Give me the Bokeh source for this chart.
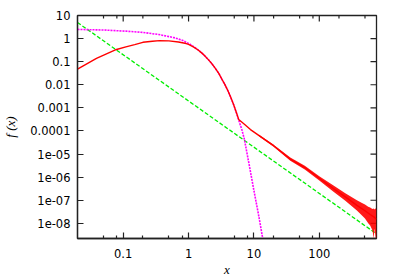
import math
from bokeh.plotting import figure
from bokeh.models import FixedTicker, CustomJSTickFormatter, ColumnDataSource
from bokeh.embed import file_html
from bokeh.resources import INLINE

# ---------------- data ----------------
red_x = [0.02, 0.039, 0.079, 0.11, 0.15, 0.2, 0.28, 0.36, 0.5, 0.7, 0.92, 1.0, 1.2, 1.4, 1.6, 1.8,
         2.04, 2.3, 2.6, 2.9, 3.27, 3.6, 4.0, 4.4, 4.9, 5.5, 5.86, 6.5, 7.3, 8.85, 12, 20, 36, 60,
         100, 165, 250, 376, 500, 600, 700, 750]
red_y = [0.048, 0.139, 0.338, 0.44, 0.55, 0.69, 0.77, 0.82, 0.8, 0.71, 0.61, 0.56, 0.43, 0.32, 0.235,
         0.17, 0.117, 0.078, 0.049, 0.031, 0.0165, 0.0102, 0.0055, 0.00295, 0.00135, 5.3e-4, 3.1e-4,
         2.45e-4, 1.86e-4, 1.15e-4, 6.3e-5, 2.3e-5, 6.0e-6, 2.6e-6, 9.0e-7, 3.2e-7, 1.4e-7, 6.0e-8,
         3.5e-8, 2.4e-8, 1.8e-8, 1.5e-8]

# noisy tail of the red curve: upper / lower envelope
tail_x = [12, 20, 36, 60, 100, 165, 250, 376, 450, 500, 560, 600, 650, 680, 700, 730, 750]
tail_hi = [6.8e-5, 2.55e-5, 7.0e-6, 3.1e-6, 1.1e-6, 4.3e-7, 2.0e-7, 1.0e-7, 7.5e-8, 6.5e-8, 5.2e-8,
           4.8e-8, 4.2e-8, 4.4e-8, 4.0e-8, 4.5e-8, 3.8e-8]
tail_lo = [5.8e-5, 2.05e-5, 5.1e-6, 2.15e-6, 7.2e-7, 2.3e-7, 9.5e-8, 3.6e-8, 2.2e-8, 1.6e-8, 1.0e-8,
           8.0e-9, 5.0e-9, 2.2e-9, 6.0e-9, 2.2e-9, 2.2e-9]

mag_x = [0.02, 0.05, 0.11, 0.2, 0.35, 0.6, 0.8, 1.0, 1.2, 1.4, 1.6, 1.8, 2.04, 2.3, 2.6, 2.9, 3.27,
         3.6, 4.0, 4.4, 4.9, 5.5, 5.86, 6.5, 7.14, 8.42, 10.0, 11.75, 13.6]
mag_y = [2.5, 2.35, 2.1, 1.85, 1.5, 1.1, 0.85, 0.62, 0.45, 0.325, 0.235, 0.17, 0.117, 0.078, 0.049,
         0.031, 0.0165, 0.0102, 0.0055, 0.00295, 0.00135, 5.2e-4, 2.9e-4, 1.2e-4, 4.4e-5, 3.7e-6,
         2.6e-7, 2.4e-8, 2.3e-9]

green_x = [0.02, 750]
green_y = [5.0, 3.5e-9]

x_ticks = [0.1, 1, 10, 100]
x_tick_labels = ["0.1", "1", "10", "100"]
x_minor_ticks = [0.05, 0.08, 0.2, 0.5, 0.8, 2, 5, 8, 20, 50, 80, 200, 500]
y_ticks = [10, 1, 0.1, 0.01, 0.001, 0.0001, 1e-5, 1e-6, 1e-7, 1e-8]
y_tick_labels = ["10", "1", "0.1", "0.01", "0.001", "0.0001", "1e-05", "1e-06", "1e-07", "1e-08"]

X_RANGE = (0.02, 750)
Y_RANGE = (2.2e-9, 10)

# ---------------- figure ----------------
p = figure(width=392, height=279, x_axis_type="log", y_axis_type="log",
           x_range=X_RANGE, y_range=Y_RANGE,
           output_backend="svg", toolbar_location=None,
           min_border_left=76, min_border_right=16, min_border_top=15, min_border_bottom=40)
p.xgrid.visible = False
p.ygrid.visible = False
AX_COL = "#222222"
p.outline_line_color = AX_COL
p.outline_line_width = 1.3
p.background_fill_color = "white"
p.border_fill_color = "white"

JS = """
for (let i = 0; i < vals.length; i++) {
  if (Math.abs(Math.log10(tick / vals[i])) < 1e-6) { return labels[i]; }
}
return "";
"""
xfmt = CustomJSTickFormatter(args=dict(vals=x_ticks, labels=x_tick_labels), code=JS)
yfmt = CustomJSTickFormatter(args=dict(vals=y_ticks, labels=y_tick_labels), code=JS)

TICK_FONT = "DejaVu Sans"


def style_axis(ax):
    ax.axis_line_color = AX_COL
    ax.axis_line_width = 1.3
    ax.major_tick_line_color = AX_COL
    ax.minor_tick_line_color = AX_COL
    ax.major_tick_line_width = 1.2
    ax.minor_tick_line_width = 1.2
    ax.major_tick_in = 6
    ax.major_tick_out = 0
    ax.minor_tick_in = 3
    ax.minor_tick_out = 0
    ax.major_label_text_font = TICK_FONT
    ax.major_label_text_color = "black"
    ax.major_label_text_font_size = "11.5px"
    ax.axis_label_text_font = "Liberation Serif"
    ax.axis_label_text_font_style = "italic"
    ax.axis_label_text_font_size = "13px"
    ax.axis_label_text_color = "black"


xa = p.xaxis[0]
xa.ticker = FixedTicker(ticks=x_ticks, minor_ticks=x_minor_ticks)
xa.formatter = xfmt
style_axis(xa)
xa.major_label_standoff = 10
xa.axis_label = "x"
xa.axis_label_standoff = 1

ya = p.yaxis[0]
ya.ticker = FixedTicker(ticks=y_ticks, minor_ticks=[])
ya.formatter = yfmt
style_axis(ya)
ya.major_label_standoff = 7
ya.axis_label = "f (x)"
ya.axis_label_standoff = 9

# mirrored inward ticks on the top and right frame edges
p.ray(x=x_ticks, y=[Y_RANGE[1]] * len(x_ticks), length=6, length_units="screen",
      angle=-math.pi / 2, line_color=AX_COL, line_width=1.2)
p.ray(x=x_minor_ticks, y=[Y_RANGE[1]] * len(x_minor_ticks), length=3, length_units="screen",
      angle=-math.pi / 2, line_color=AX_COL, line_width=1.2)
p.ray(x=[X_RANGE[1]] * len(y_ticks), y=y_ticks, length=6, length_units="screen",
      angle=math.pi, line_color=AX_COL, line_width=1.2)

# ---------------- glyphs ----------------
p.line(green_x, green_y, line_color="#00ee00", line_width=1.3, line_dash="4 2")
p.line(mag_x, mag_y, line_color="#ff00ff", line_width=1.6, line_dash="2 1")
band = ColumnDataSource(dict(x=tail_x, lo=tail_lo, hi=tail_hi))
p.varea(x="x", y1="lo", y2="hi", source=band, fill_color="#ff0000", fill_alpha=0.9)
p.line(red_x, red_y, line_color="#ff0000", line_width=1.4)

open("out.html", "w").write(file_html(p, INLINE))
